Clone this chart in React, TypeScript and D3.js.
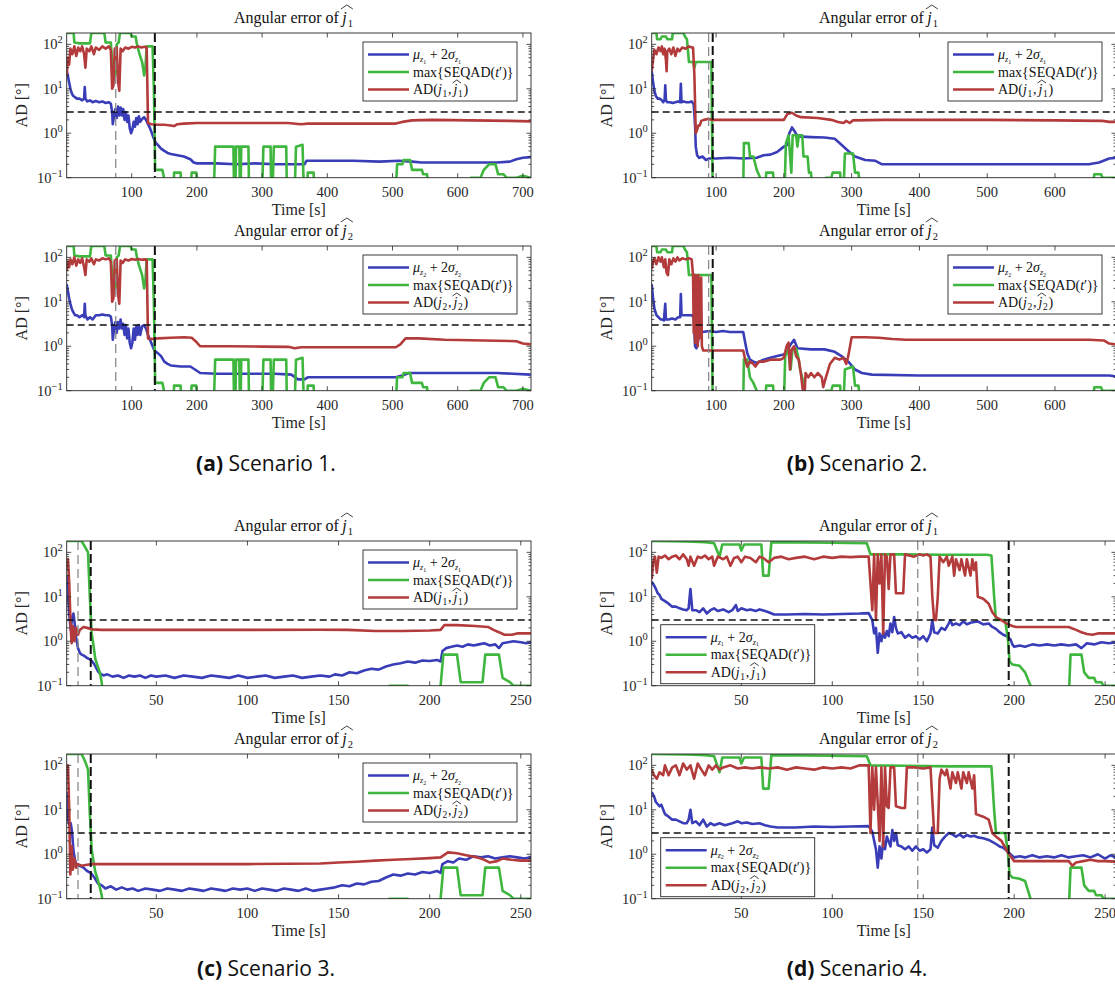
import React from "react";
import * as d3 from "d3";

type Pt = [number, number];

// scenario 1 (a)
const s1j1Blue: Pt[] = [[0.3,25],[2,20],[4,14],[6,10],[8,8],[10,7],[13,6.5],[16,6],[20,6],[24,5.5],[27,6],[28,11],[29,6],[32,5.2],[36,5.5],[40,5],[45,5.3],[50,5],[55,5.2],[60,4.8],[65,5],[68,4.6],[70,3],[71,1.6],[73,2.5],[75,3.5],[77,2.2],[79,4],[81,2.5],[83,3.8],[85,2.5],[87,3.5],[89,2],[91,3],[93,1.8],[95,2.5],[97,1.3],[99,1.0],[101,1.2],[103,1.8],[105,1.4],[107,2.2],[109,1.6],[111,2.4],[113,1.8],[116,2.1],[119,2.3],[122,2.0],[125,1.6],[128,1.3],[131,1.0],[134,0.75],[137,0.6],[140,0.55],[145,0.45],[150,0.4],[155,0.36],[160,0.34],[170,0.32],[180,0.3],[190,0.26],[195,0.22],[200,0.21],[230,0.21],[260,0.2],[290,0.21],[320,0.2],[350,0.2],[365,0.2],[368,0.24],[400,0.24],[440,0.24],[480,0.23],[510,0.24],[530,0.23],[545,0.22],[580,0.22],[620,0.22],[660,0.22],[680,0.23],[690,0.26],[700,0.28],[712,0.29]];
const s1j1Red: Pt[] = [[0.3,20],[2,50],[4,35],[6,80],[9,60],[12,90],[15,55],[18,85],[21,70],[24,90],[27,60],[29,30],[31,80],[35,70],[38,90],[42,60],[45,85],[50,75],[55,90],[60,80],[65,90],[68,75],[70,10],[72,12],[74,80],[77,85],[79,15],[81,9],[83,80],[86,70],[90,85],[95,80],[100,88],[105,85],[110,90],[115,85],[120,88],[123,85],[125,1.7],[130,1.6],[140,1.55],[150,1.55],[160,1.5],[165,1.45],[170,1.6],[180,1.65],[200,1.7],[250,1.7],[300,1.7],[340,1.7],[355,1.62],[360,1.6],[370,1.65],[450,1.65],[505,1.65],[515,1.8],[530,1.95],[560,2.0],[620,1.95],[680,1.9],[712,1.85]];
const s1j1Green: Pt[] = [[0.3,180],[11,180],[12,110],[20,105],[36,105],[38,180],[58,180],[60,110],[68,110],[70,40],[72,20],[75,20],[77,100],[80,110],[82,180],[98,180],[100,150],[106,150],[108,100],[112,60],[116,40],[119,20],[121,30],[123,90],[132,90],[134,10],[136,0.15],[147,0.15],[149,0.11],[151,0.05],[164,0.05],[165,0.13],[175,0.13],[176,0.05],[190,0.05],[192,0.13],[199,0.13],[201,0.05],[226,0.05],[228,0.5],[256,0.5],[257,0.05],[259,0.05],[260,0.5],[265,0.5],[266,0.05],[267,0.05],[268,0.5],[279,0.5],[280,0.05],[300,0.05],[302,0.5],[313,0.5],[314,0.05],[316,0.05],[318,0.5],[337,0.5],[338,0.05],[350,0.05],[352,0.5],[362,0.55],[364,0.05],[369,0.05],[370,0.13],[379,0.13],[380,0.05],[505,0.05],[507,0.2],[515,0.2],[517,0.25],[527,0.25],[530,0.15],[545,0.15],[547,0.12],[553,0.12],[555,0.05],[617,0.05],[620,0.1],[635,0.1],[640,0.15],[648,0.2],[658,0.2],[662,0.12],[670,0.12],[675,0.1],[690,0.1],[700,0.11],[712,0.1]];
const s1j2Blue: Pt[] = [[0.3,25],[2,18],[4,12],[6,9],[8,7],[10,6],[13,5],[16,5],[20,4.5],[24,5],[27,4.5],[28,9],[29,5],[32,4],[36,4.5],[40,4],[45,5],[50,5],[55,5.2],[60,5],[65,5],[68,4.6],[70,3],[71,1.4],[73,2.5],[75,3.5],[77,2.0],[79,3.5],[81,2.5],[83,4],[85,2.5],[87,3.2],[89,1.8],[91,3],[93,1.5],[95,2.5],[97,1.2],[99,0.9],[101,1.2],[103,2.5],[105,1.4],[107,2.8],[109,1.8],[111,3],[113,1.8],[116,2.8],[119,3],[122,2.5],[125,1.8],[128,1.4],[131,1.1],[134,0.85],[137,0.75],[140,0.7],[145,0.6],[150,0.45],[155,0.4],[160,0.37],[175,0.35],[190,0.35],[197,0.3],[205,0.25],[230,0.24],[260,0.24],[290,0.24],[320,0.24],[345,0.23],[355,0.18],[365,0.18],[370,0.2],[400,0.2],[450,0.2],[505,0.2],[515,0.22],[525,0.25],[560,0.25],[620,0.25],[660,0.25],[712,0.23]];
const s1j2Red: Pt[] = [[0.3,50],[2,80],[4,60],[6,90],[9,70],[12,100],[15,65],[18,90],[21,75],[24,95],[27,60],[29,40],[31,90],[35,80],[38,95],[42,70],[45,90],[50,85],[55,95],[60,90],[65,95],[68,80],[70,10],[72,12],[74,85],[77,90],[79,15],[81,9],[83,85],[86,75],[90,90],[95,85],[100,92],[105,88],[110,92],[115,88],[120,90],[123,88],[125,1.5],[130,1.45],[140,1.5],[160,1.55],[180,1.6],[192,1.55],[198,1.3],[205,1.0],[250,1.0],[300,0.98],[340,0.97],[350,0.9],[360,0.95],[450,0.95],[505,0.95],[512,1.1],[520,1.5],[540,1.5],[580,1.4],[640,1.35],[690,1.3],[700,1.15],[712,1.1]];
const s1j2Green: Pt[] = s1j1Green;

// scenario 2 (b)
const s2j1Blue: Pt[] = [[5,25],[7,14],[9,9],[11,7],[14,6],[17,6],[20,5.5],[22,5],[24,5.5],[25,12],[26,5.5],[28,5],[32,5],[36,4.8],[40,5],[44,5.2],[47,5],[48,13],[49,5],[52,5.2],[56,5],[60,5],[64,5.2],[67,4.5],[69,1.5],[70,0.5],[72,0.32],[75,0.28],[80,0.3],[85,0.25],[90,0.27],[100,0.27],[120,0.28],[140,0.27],[160,0.28],[170,0.32],[180,0.33],[190,0.38],[200,0.5],[205,0.55],[208,1.0],[212,1.35],[216,1.1],[220,0.85],[240,0.82],[260,0.8],[275,0.75],[285,0.55],[295,0.4],[305,0.3],[320,0.25],[335,0.24],[345,0.2],[400,0.2],[450,0.2],[500,0.2],[550,0.2],[600,0.2],[650,0.2],[665,0.22],[680,0.27],[690,0.28]];
const s2j1Red: Pt[] = [[5,25],[7,45],[9,75],[12,60],[15,85],[18,70],[20,90],[22,60],[24,80],[26,45],[27,25],[28,70],[31,80],[34,60],[37,85],[40,55],[43,80],[46,70],[50,85],[55,80],[60,90],[64,85],[66,85],[68,20],[70,1.0],[72,1.2],[74,1.5],[76,1.5],[78,1.9],[82,2.0],[88,2.1],[95,2.0],[150,2.0],[200,2.0],[205,2.7],[212,2.9],[218,2.5],[225,2.3],[250,2.2],[270,2.0],[280,1.8],[288,1.7],[292,1.9],[297,1.7],[302,1.95],[350,2.0],[400,2.0],[500,2.0],[600,1.95],[670,1.9],[680,1.8],[690,1.8]];
const s2j1Green: Pt[] = [[5,180],[12,180],[13,130],[18,130],[20,150],[26,150],[28,130],[35,130],[36,180],[52,180],[54,150],[57,130],[60,40],[66,40],[68,30],[70,40],[88,40],[93,40],[95,0.05],[140,0.05],[141,0.6],[148,0.6],[150,0.3],[155,0.3],[160,0.15],[165,0.1],[168,0.05],[172,0.05],[174,0.13],[184,0.13],[186,0.05],[201,0.05],[203,0.6],[207,0.9],[211,0.13],[213,0.9],[218,0.9],[220,0.5],[222,0.9],[227,0.9],[229,0.3],[235,0.3],[237,0.13],[240,0.13],[242,0.05],[260,0.05],[262,0.1],[270,0.1],[272,0.13],[283,0.13],[285,0.05],[288,0.05],[290,0.35],[302,0.35],[305,0.13],[310,0.13],[313,0.05],[655,0.05],[658,0.12],[668,0.12],[670,0.1],[688,0.1],[690,0.05]];
const s2j2Blue: Pt[] = [[5,25],[7,12],[9,7],[12,5],[15,4.5],[18,4],[21,4],[23,3.8],[25,9],[26,4],[30,4],[35,4.2],[40,4],[44,4.5],[47,4.5],[48,15],[49,5],[52,5],[56,5],[60,5],[64,5],[67,4.5],[69,1.0],[71,0.9],[73,1.2],[75,2.2],[80,2.1],[90,2.2],[100,2.1],[110,2.2],[120,2.1],[130,2.1],[140,2.1],[143,1.2],[146,0.7],[150,0.5],[155,0.45],[160,0.42],[170,0.5],[180,0.55],[190,0.6],[200,0.65],[205,0.8],[210,1.1],[215,1.4],[220,0.9],[240,0.85],[260,0.85],[275,0.75],[285,0.6],[295,0.45],[305,0.3],[315,0.25],[330,0.23],[400,0.22],[500,0.22],[600,0.22],[680,0.22],[690,0.21]];
const s2j2Red: Pt[] = [[5,55],[7,80],[9,95],[12,70],[15,100],[18,80],[20,100],[23,60],[25,90],[27,45],[29,40],[31,90],[34,70],[37,95],[40,80],[43,100],[46,85],[50,95],[55,90],[60,95],[64,90],[66,40],[67,2],[68,40],[69,1.2],[70,40],[71,1.5],[72,35],[73,1.0],[74,40],[75,1.5],[76,30],[77,2],[78,35],[79,1.0],[81,0.8],[90,0.8],[120,0.8],[140,0.8],[143,0.5],[146,0.35],[150,0.45],[155,0.4],[158,0.35],[163,0.45],[170,0.45],[180,0.5],[195,0.5],[200,0.55],[204,1.0],[207,1.2],[209,0.3],[211,0.8],[215,1.0],[218,0.6],[222,0.5],[225,0.25],[228,0.1],[230,0.05],[232,0.25],[236,0.2],[240,0.25],[245,0.2],[250,0.25],[256,0.2],[258,0.12],[262,0.2],[268,0.4],[275,0.55],[282,0.5],[288,0.55],[292,0.4],[295,0.6],[300,1.6],[320,1.6],[340,1.55],[360,1.45],[380,1.4],[450,1.4],[550,1.4],[650,1.4],[672,1.35],[680,1.15],[690,1.1]];
const s2j2Green: Pt[] = [[5,180],[12,180],[13,130],[18,130],[20,150],[26,150],[28,130],[35,130],[36,180],[52,180],[54,150],[57,130],[60,40],[88,40],[93,40],[95,0.05],[140,0.05],[141,0.5],[146,0.5],[150,0.2],[155,0.15],[160,0.1],[165,0.05],[172,0.05],[174,0.13],[184,0.13],[186,0.05],[200,0.05],[202,0.6],[206,0.9],[210,0.3],[213,0.9],[218,0.9],[221,0.6],[224,0.3],[230,0.13],[233,0.05],[260,0.05],[262,0.1],[270,0.1],[272,0.13],[283,0.13],[285,0.05],[288,0.05],[290,0.3],[302,0.35],[305,0.13],[310,0.13],[313,0.05],[655,0.05],[658,0.12],[668,0.12],[670,0.1],[688,0.1],[690,0.05]];

// scenario 3 (c)
const s3j1Blue: Pt[] = [[0.8,30],[1.5,12],[2.2,4],[3,1.8],[3.8,3.5],[4.5,4.2],[5.2,2.5],[6,1.2],[7,0.7],[8,0.55],[9,0.5],[10,0.48],[11,0.45],[12,0.42],[13,0.4],[14,0.38],[15,0.34],[16,0.3],[17,0.25],[18,0.21],[19,0.19],[21,0.17],[23,0.18],[26,0.16],[29,0.17],[32,0.15],[35,0.17],[38,0.16],[41,0.17],[44,0.15],[47,0.17],[50,0.16],[55,0.17],[60,0.15],[65,0.17],[70,0.16],[75,0.15],[80,0.17],[85,0.16],[90,0.15],[95,0.17],[100,0.15],[105,0.16],[110,0.17],[115,0.15],[120,0.16],[125,0.17],[130,0.15],[135,0.16],[140,0.17],[145,0.16],[148,0.18],[152,0.17],[156,0.2],[160,0.19],[164,0.22],[168,0.24],[172,0.23],[176,0.27],[180,0.3],[184,0.32],[188,0.35],[192,0.33],[196,0.37],[200,0.36],[204,0.38],[206,0.35],[207,0.6],[209,0.7],[212,0.75],[215,0.8],[218,0.75],[221,0.85],[224,0.8],[227,0.85],[230,0.9],[233,0.8],[236,0.85],[238,0.7],[240,0.9],[243,0.95],[246,1.0],[250,0.95],[253,0.9],[255.6,0.95]];
const s3j1Red: Pt[] = [[0.8,40],[1.5,70],[2.2,20],[3,2],[3.5,0.9],[4.2,2.2],[5,1.0],[6,2.0],[7,1.4],[8,1.8],[10,2.1],[12,2.0],[15,1.85],[20,1.8],[50,1.8],[100,1.8],[140,1.82],[155,1.8],[170,1.7],[185,1.7],[200,1.75],[206,1.8],[208,2.3],[215,2.3],[225,2.2],[232,2.1],[235,1.8],[238,1.6],[241,1.4],[245,1.4],[248,1.5],[255.6,1.5]];
const s3j1Green: Pt[] = [[0.8,180],[9,180],[11,130],[12.5,100],[13.5,10],[14.5,1.5],[15.5,0.8],[16.5,0.4],[17.5,0.3],[19,0.2],[20,0.12],[21,0.05],[177,0.05],[178,0.1],[188,0.1],[189,0.05],[204,0.05],[206,0.1],[207.5,0.5],[215,0.5],[217,0.12],[229,0.12],[230.5,0.5],[238,0.5],[240,0.15],[244,0.12],[246,0.1],[255.6,0.1]];
const s3j2Blue: Pt[] = [[0.8,25],[1.5,6],[2.3,4.5],[3,5],[3.8,3],[4.5,1.2],[5.5,0.7],[6.5,0.55],[8,0.55],[10,0.5],[12,0.42],[14,0.38],[16,0.3],[18,0.22],[20,0.2],[22,0.17],[25,0.19],[28,0.16],[31,0.18],[34,0.16],[37,0.17],[40,0.15],[44,0.17],[48,0.16],[52,0.15],[56,0.17],[60,0.16],[64,0.15],[68,0.17],[72,0.16],[76,0.15],[80,0.17],[84,0.16],[88,0.15],[92,0.17],[96,0.16],[100,0.17],[104,0.15],[108,0.17],[112,0.16],[116,0.15],[120,0.17],[124,0.16],[128,0.15],[132,0.17],[136,0.15],[140,0.16],[144,0.17],[148,0.18],[152,0.2],[156,0.19],[160,0.22],[164,0.21],[168,0.24],[172,0.25],[176,0.3],[180,0.35],[184,0.33],[188,0.37],[192,0.35],[196,0.4],[200,0.38],[204,0.42],[206,0.38],[207,0.6],[210,0.7],[213,0.65],[216,0.8],[220,0.75],[224,0.9],[228,0.85],[232,0.9],[236,0.8],[240,0.85],[244,0.9],[248,0.85],[252,0.8],[255.6,0.85]];
const s3j2Red: Pt[] = [[0.8,90],[1.5,100],[2.2,10],[2.8,0.35],[3.5,1.5],[4.2,0.45],[5,0.8],[6,0.5],[7,0.6],[9,0.55],[12,0.58],[15,0.6],[30,0.6],[60,0.6],[100,0.6],[140,0.62],[150,0.65],[160,0.68],[170,0.72],[180,0.75],[190,0.78],[200,0.82],[206,0.85],[210,1.1],[215,1.05],[220,0.95],[226,0.85],[230,0.75],[233,0.65],[237,0.7],[240,0.8],[245,0.75],[250,0.72],[255.6,0.72]];
const s3j2Green: Pt[] = [[0.8,180],[9,180],[11,120],[12.5,80],[13.5,8],[14.5,1.3],[15.5,0.7],[16.5,0.4],[17.5,0.3],[19,0.18],[20,0.12],[21,0.05],[177,0.05],[178,0.1],[188,0.1],[189,0.05],[204,0.05],[206,0.1],[207.5,0.5],[215,0.5],[217,0.12],[229,0.12],[230.5,0.5],[238,0.5],[240,0.15],[244,0.12],[246,0.1],[255.6,0.1]];

// scenario 4 (d)
const s4j1Blue: Pt[] = [[0.7,22],[2,18],[3,15],[4,12],[5,11],[6,9],[8,8],[10,7],[12,6],[14,6],[16,5.5],[18,5.2],[20,5],[21,5.5],[22,15],[23,5],[25,5],[27,4.5],[29,5.5],[31,4.2],[33,5],[35,5.5],[37,4.8],[40,5.2],[43,4.5],[45,5],[47,6.5],[48,4.8],[50,5.5],[53,5],[55,5.2],[58,4.8],[60,5.2],[63,4.8],[65,4.5],[68,4],[75,4],[85,4.1],[95,4],[105,4.1],[115,4.2],[120,4.3],[122,3],[123,1.5],[124,2],[125,0.55],[126,1.5],[127,1.0],[128,1.6],[129,1.2],[130,1.7],[131,1.3],[132,2.5],[133,1.6],[134,3.5],[135,2],[136,1.5],[138,1.6],[140,1.2],[142,1.4],[144,1.2],[146,1.3],[148,1.1],[150,1.3],[152,1.0],[154,1.5],[155,3],[156,1.6],[158,1.5],[160,2],[162,1.8],[164,2.5],[165,3],[166,2.3],[168,2.5],[170,2.3],[172,2.8],[174,2.4],[176,2.6],[178,2.7],[180,2.8],[183,2.4],[186,2.5],[188,2.1],[190,1.9],[192,1.6],[194,1.4],[196,1.3],[198,1.1],[199,0.85],[200,0.75],[203,0.8],[206,0.75],[210,0.85],[214,0.8],[218,0.85],[222,0.8],[226,0.85],[230,0.8],[234,0.85],[237,0.7],[240,0.9],[244,0.85],[248,0.95],[252,0.9],[256,0.95]];
const s4j1Red: Pt[] = [[0.7,25],[1.5,60],[2.5,80],[3.5,35],[4.5,80],[6,75],[8,85],[10,70],[12,80],[14,85],[16,70],[18,90],[20,70],[21,50],[22,80],[24,50],[26,80],[28,75],[30,85],[32,70],[34,80],[35,50],[37,80],[40,70],[42,80],[44,50],[46,75],[48,80],[50,60],[52,80],[55,75],[58,60],[60,80],[62,75],[65,60],[68,75],[72,80],[76,70],[80,75],[85,80],[90,70],[95,80],[100,75],[105,80],[110,78],[115,80],[120,80],[122,5],[123,90],[124,3],[125,90],[126,20],[127,90],[128,1.5],[129,90],[130,80],[131,15],[132,90],[134,90],[135,12],[137,12],[139,12],[140,90],[145,80],[148,90],[150,85],[152,90],[154,80],[155,10],[156,3],[157,3],[158,10],[159,80],[161,60],[163,80],[164,50],[166,80],[167,30],[168,70],[170,40],[171,70],[173,30],[174,70],[176,30],[177,70],[178,40],[179,60],[180,10],[183,9],[186,7],[188,4.5],[190,3.5],[193,3],[196,2.5],[199,2.2],[201,2.1],[210,2.1],[220,2.1],[230,2.1],[234,1.8],[237,1.6],[240,1.45],[243,1.4],[246,1.5],[250,1.5],[256,1.5]];
const s4j1Green: Pt[] = [[0.7,180],[20,175],[30,170],[35,160],[38,80],[39.5,150],[49,150],[50,110],[51.5,150],[61,150],[62,30],[65,30],[66.5,170],[100,165],[119,160],[121,90],[140,90],[160,88],[185,88],[187.5,85],[189,10],[190,3],[195,3],[196.5,1.2],[197.5,0.35],[199,0.3],[203,0.28],[206,0.2],[209,0.1],[211,0.05],[230,0.05],[231,0.5],[237,0.5],[238.5,0.2],[241,0.15],[244,0.15],[245,0.12],[248,0.12],[249,0.1],[256,0.1]];
const s4j2Blue: Pt[] = [[0.7,25],[2,20],[3,15],[5,12],[6,13],[8,8],[10,7],[12,6],[14,6],[16,5.5],[18,5],[20,5],[21,6],[22,10],[23,5],[25,5.5],[27,4.5],[29,6],[31,4.2],[33,5],[35,4.5],[38,5],[41,4.5],[45,5],[48,5.5],[50,5],[53,5.2],[56,4.8],[60,5],[63,4.5],[66,4.2],[70,4],[80,4],[90,4.2],[100,4.1],[110,4.2],[120,4.3],[122,3.2],[123,2],[124,1.3],[125,0.5],[126,1.5],[127,0.8],[128,2],[129,1.3],[130,2.5],[132,1.5],[133,3.5],[134,2],[135,3],[136,1.6],[138,1.5],[140,1.3],[142,1.5],[144,1.2],[146,1.5],[148,1.2],[150,1.3],[152,1.1],[154,1.3],[155,4],[156,1.6],[158,1.4],[160,2],[162,2.5],[164,3],[166,2.8],[168,2.5],[170,2.8],[172,2.4],[174,2.7],[176,2.5],[178,2.6],[180,2.4],[183,2.3],[186,2.1],[188,1.9],[190,1.7],[192,1.5],[194,1.4],[196,1.2],[198,1.0],[200,0.85],[203,0.9],[206,0.85],[210,0.95],[214,0.85],[218,0.9],[222,0.85],[226,0.95],[230,0.85],[234,0.9],[238,0.95],[242,0.85],[246,1.0],[250,0.8],[253,0.95],[256,0.85]];
const s4j2Red: Pt[] = [[0.7,80],[2,60],[3.5,50],[5,70],[7,60],[8,100],[10,60],[12,90],[14,100],[16,60],[18,110],[20,80],[22,100],[24,50],[26,110],[28,80],[30,60],[32,100],[34,80],[36,100],[38,80],[40,90],[44,100],[48,85],[52,90],[56,85],[60,90],[65,85],[70,90],[75,80],[80,90],[85,85],[90,80],[95,90],[100,85],[105,90],[110,85],[115,100],[120,100],[121,3],[122,90],[123,10],[124,90],[126,2],[127,90],[128,1.5],[129,90],[130,12],[131,11],[132,90],[134,90],[135,12],[138,11],[140,11],[141,90],[145,90],[150,85],[154,90],[156,3],[157,3],[158,3],[159,50],[160,80],[162,60],[163,80],[165,30],[166,70],[168,40],[169,70],[171,30],[172,70],[174,40],[175,70],[177,30],[178,60],[179,8],[183,7],[186,6],[188,3],[190,2.5],[193,2],[196,1.2],[198,0.9],[200,0.7],[210,0.7],[220,0.7],[230,0.7],[232,0.55],[234,0.65],[238,0.7],[242,0.75],[246,0.7],[250,0.7],[256,0.68]];
const s4j2Green: Pt[] = [[0.7,180],[20,175],[30,170],[35,160],[38,70],[39.5,150],[49,150],[50,110],[51.5,150],[61,150],[62,30],[65,30],[66.5,170],[100,165],[119,160],[121,100],[140,98],[165,95],[187.5,95],[189,10],[190,3],[195,3],[196.5,1.2],[197.5,0.35],[199,0.3],[203,0.28],[206,0.25],[209,0.1],[211,0.05],[230,0.05],[231,0.5],[237,0.5],[238.5,0.2],[241,0.15],[244,0.15],[245,0.12],[248,0.12],[249,0.1],[256,0.1]];

const captionLetters = ["(a)", "(b)", "(c)", "(d)"];
const captionTexts = ["Scenario 1.", "Scenario 2.", "Scenario 3.", "Scenario 4."];
const timeDomains: Pt[] = [[0.3, 712.4], [5, 690], [0.8, 255.6], [0.7, 256]];
const longTicks = [100, 200, 300, 400, 500, 600, 700];
const shortTicks = [50, 100, 150, 200, 250];
const grayMarks = [75.5, 89, 7, 147];
const blackMarks = [135.5, 95, 14, 197];
const legendCorner = ["ne", "ne", "ne", "sw"];
const yTickValues = [0.1, 1, 10, 100];
const yTickExps = ["\u22121", "0", "1", "2"];
const threshold = 3;

const seriesByScenario = [
  [[s1j1Blue, s1j1Green, s1j1Red], [s1j2Blue, s1j2Green, s1j2Red]],
  [[s2j1Blue, s2j1Green, s2j1Red], [s2j2Blue, s2j2Green, s2j2Red]],
  [[s3j1Blue, s3j1Green, s3j1Red], [s3j2Blue, s3j2Green, s3j2Red]],
  [[s4j1Blue, s4j1Green, s4j1Red], [s4j2Blue, s4j2Green, s4j2Red]],
];

const COLORS = ["#3a3db8", "#3fb73f", "#b43b3b"];
const SERIF = "'Liberation Serif', 'DejaVu Serif', serif";
const AXIS = "#262626";
const W = 464.3;
const H = 144.7;
const colLeft = [66.7, 651.7];
const rowBottom = [177.7, 390.7, 685.7, 898.7];

function Hat({ x, y, w, h }: { x: number; y: number; w: number; h: number }) {
  return <path d={`M${x},${y} L${x + w / 2},${y - h} L${x + w},${y}`} fill="none" stroke="#111" strokeWidth={0.8} />;
}

function Legend({ x, y, k }: { x: number; y: number; k: number }) {
  const rows = [12.5, 30, 47.5];
  const tx = x + 50;
  return (
    <g fontFamily={SERIF} fontSize={14} fill="#111">
      <rect x={x} y={y} width={154} height={59} fill="white" stroke={AXIS} strokeWidth={0.9} />
      {rows.map((r, i) => (
        <line key={i} x1={x + 5} x2={x + 46} y1={y + r} y2={y + r} stroke={COLORS[i]} strokeWidth={2.5} />
      ))}
      <text x={tx} y={y + rows[0] + 4.5}>
        <tspan fontStyle="italic">μ</tspan>
        <tspan fontStyle="italic" fontSize={8} dy={3}>z</tspan>
        <tspan fontSize={6} dy={1.5}>{k}</tspan>
        <tspan dy={-4.5}>{" + 2"}</tspan>
        <tspan fontStyle="italic">σ</tspan>
        <tspan fontStyle="italic" fontSize={8} dy={3}>z</tspan>
        <tspan fontSize={6} dy={1.5}>{k}</tspan>
      </text>
      <text x={tx} y={y + rows[1] + 4.5}>
        max{"{"}SEQAD(<tspan fontStyle="italic">t</tspan>′){"}"}
      </text>
      <g>
        <text x={tx} y={y + rows[2] + 4.5}>AD(</text>
        <text x={tx + 25} y={y + rows[2] + 4.5} fontStyle="italic">j</text>
        <text x={tx + 29.5} y={y + rows[2] + 7.5} fontSize={9.5}>{k}</text>
        <text x={tx + 35} y={y + rows[2] + 4.5}>,</text>
        <text x={tx + 40.5} y={y + rows[2] + 4.5} fontStyle="italic">j</text>
        <Hat x={tx + 39.5} y={y + rows[2] - 6.5} w={8.5} h={3} />
        <text x={tx + 45} y={y + rows[2] + 7.5} fontSize={9.5}>{k}</text>
        <text x={tx + 50.5} y={y + rows[2] + 4.5}>)</text>
      </g>
    </g>
  );
}

function Panel({ s, k, left, bottom }: { s: number; k: number; left: number; bottom: number }) {
  const top = bottom - H;
  const right = left + W;
  const [t0, t1] = timeDomains[s];
  const x = d3.scaleLinear().domain([t0, t1]).range([left, right]);
  const y = d3.scaleLog().domain([0.1, 180]).range([bottom, top]);
  const line = d3.line<Pt>().x((d) => x(d[0])).y((d) => y(d[1]));
  const ticks = (s < 2 ? longTicks : shortTicks).filter((t) => t >= t0 && t <= t1);
  const minor: number[] = [];
  yTickValues.forEach((dec) => {
    for (let m = 2; m <= 9; m++) if (dec * m < 180) minor.push(dec * m);
  });
  const clipId = `clip-${s}-${k}`;
  const cx = (left + right) / 2;
  const series = seriesByScenario[s][k - 1];
  const corner = legendCorner[s];
  const lx = corner === "ne" ? right - 14 - 154 : left + 9;
  const ly = corner === "ne" ? top + 9 : bottom - 61;
  return (
    <g>
      <defs>
        <clipPath id={clipId}>
          <rect x={left} y={top} width={W} height={H} />
        </clipPath>
      </defs>
      {/* title */}
      <g fontFamily={SERIF} fontSize={16} fill="#111">
        <text x={cx + 40} y={top - 10} textAnchor="end">Angular error of</text>
        <text x={cx + 43.5} y={top - 10} fontStyle="italic">j</text>
        <Hat x={cx + 42} y={top - 24} w={12} h={4} />
        <text x={cx + 49} y={top - 6.5} fontSize={10.5}>{k}</text>
      </g>
      {/* data */}
      <g clipPath={`url(#${clipId})`} fill="none" strokeLinejoin="round">
        {series.map((d, i) => (
          <path key={i} d={line(d) || ""} stroke={COLORS[i]} strokeWidth={2.6} />
        ))}
        <line x1={left} x2={right} y1={y(threshold)} y2={y(threshold)} stroke="#111" strokeWidth={1.4} strokeDasharray="7 4" />
        <line x1={x(grayMarks[s])} x2={x(grayMarks[s])} y1={top} y2={bottom} stroke="#8a8a8a" strokeWidth={1.3} strokeDasharray="9 5" />
        <line x1={x(blackMarks[s])} x2={x(blackMarks[s])} y1={top} y2={bottom} stroke="#111" strokeWidth={2} strokeDasharray="9 4" />
      </g>
      {/* axes box and ticks */}
      <rect x={left} y={top} width={W} height={H} fill="none" stroke={AXIS} strokeWidth={0.9} />
      <g stroke={AXIS} strokeWidth={0.8}>
        {ticks.map((t) => (
          <g key={t}>
            <line x1={x(t)} x2={x(t)} y1={bottom} y2={bottom - 4.5} />
            <line x1={x(t)} x2={x(t)} y1={top} y2={top + 4.5} />
          </g>
        ))}
        {yTickValues.map((v) => (
          <g key={v}>
            <line x1={left} x2={left + 4.5} y1={y(v)} y2={y(v)} />
            <line x1={right} x2={right - 4.5} y1={y(v)} y2={y(v)} />
          </g>
        ))}
        {minor.map((v) => (
          <g key={v}>
            <line x1={left} x2={left + 2.5} y1={y(v)} y2={y(v)} />
            <line x1={right} x2={right - 2.5} y1={y(v)} y2={y(v)} />
          </g>
        ))}
      </g>
      <g fontFamily={SERIF} fontSize={14.5} fill={AXIS}>
        {ticks.map((t) => (
          <text key={t} x={x(t)} y={bottom + 19} textAnchor="middle">{t}</text>
        ))}
        {yTickValues.map((v, i) => (
          <text key={v} x={left - 4} y={y(v) + 5} textAnchor="end">
            10<tspan fontSize={10.5} dy={-6}>{yTickExps[i]}</tspan>
          </text>
        ))}
        <text x={cx} y={bottom + 37} textAnchor="middle" fontSize={16}>Time [s]</text>
        <text transform={`translate(${left - 40},${top + H / 2}) rotate(-90)`} textAnchor="middle" fontSize={16}>AD [°]</text>
      </g>
      <Legend x={lx} y={ly} k={k} />
    </g>
  );
}

export default function App() {
  const captionX = [266, 857];
  const captionY = [471, 976];
  return (
    <svg width={1115} height={990} style={{ position: "absolute", left: 0, top: 0, background: "white" }}>
      <rect width={1115} height={990} fill="white" />
      {[0, 1, 2, 3].map((s) => {
        const col = s % 2;
        const row = s < 2 ? 0 : 1;
        return (
          <g key={s}>
            <Panel s={s} k={1} left={colLeft[col]} bottom={rowBottom[row * 2]} />
            <Panel s={s} k={2} left={colLeft[col]} bottom={rowBottom[row * 2 + 1]} />
            <text x={captionX[col]} y={captionY[row]} textAnchor="middle" fontFamily="'Open Sans', 'Noto Sans', sans-serif" fontSize={21} fill="#111">
              <tspan fontWeight="bold">{captionLetters[s]}</tspan>
              {" " + captionTexts[s]}
            </text>
          </g>
        );
      })}
    </svg>
  );
}
